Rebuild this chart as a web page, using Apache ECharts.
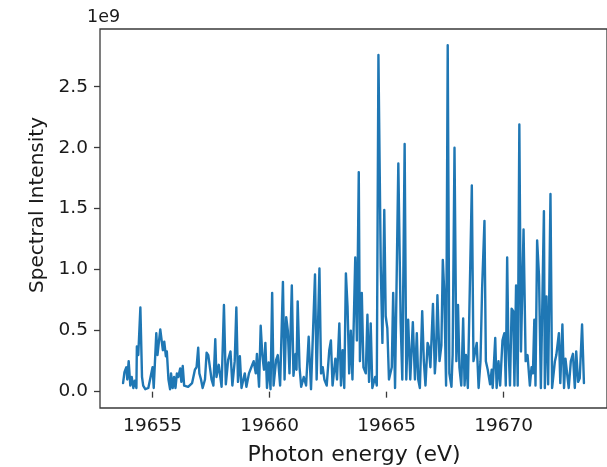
<!DOCTYPE html>
<html>
<head>
<meta charset="utf-8">
<script src="https://cdn.jsdelivr.net/npm/echarts@6/dist/echarts.min.js"></script>
<style>html,body{margin:0;padding:0;background:#fff;}#chart{width:607px;height:467px;}</style>
</head>
<body>
<div id="chart"></div>
<script>
// Photon energy (eV)
var energy = [
19653.74,19653.80,19653.88,19653.92,19653.98,19654.05,19654.11,19654.18,19654.24,19654.31,
19654.33,19654.39,19654.48,19654.55,19654.60,19654.69,19654.82,19654.90,19655.00,19655.05,
19655.16,19655.21,19655.33,19655.38,19655.44,19655.50,19655.57,19655.61,19655.68,19655.75,
19655.79,19655.86,19655.92,19655.98,19656.04,19656.10,19656.18,19656.23,19656.29,19656.35,
19656.43,19656.52,19656.60,19656.69,19656.81,19656.88,19656.95,19657.00,19657.07,19657.14,
19657.24,19657.31,19657.38,19657.45,19657.52,19657.60,19657.68,19657.73,19657.83,19657.95,
19658.05,19658.13,19658.23,19658.33,19658.41,19658.51,19658.58,19658.65,19658.73,19658.80,
19658.94,19659.01,19659.12,19659.22,19659.32,19659.41,19659.46,19659.55,19659.62,19659.69,
19659.76,19659.82,19659.89,19659.96,19660.04,19660.11,19660.17,19660.28,19660.35,19660.45,
19660.57,19660.64,19660.71,19660.78,19660.85,19660.95,19661.02,19661.11,19661.15,19661.20,
19661.28,19661.35,19661.46,19661.56,19661.67,19661.77,19661.94,19662.01,19662.13,19662.20,
19662.27,19662.34,19662.44,19662.55,19662.62,19662.69,19662.81,19662.88,19662.98,19663.05,
19663.12,19663.19,19663.26,19663.33,19663.40,19663.47,19663.54,19663.66,19663.73,19663.81,
19663.86,19663.94,19664.01,19664.11,19664.18,19664.25,19664.32,19664.39,19664.51,19664.58,
19664.65,19664.75,19664.82,19664.90,19664.96,19665.03,19665.10,19665.22,19665.28,19665.36,
19665.50,19665.60,19665.67,19665.77,19665.84,19665.92,19666.01,19666.12,19666.21,19666.29,
19666.35,19666.42,19666.52,19666.59,19666.66,19666.75,19666.80,19666.87,19666.98,19667.06,
19667.11,19667.17,19667.26,19667.34,19667.40,19667.46,19667.54,19667.61,19667.68,19667.77,
19667.82,19667.90,19667.98,19668.05,19668.11,19668.19,19668.27,19668.33,19668.39,19668.47,
19668.64,19668.71,19668.79,19668.85,19668.93,19669.01,19669.08,19669.18,19669.24,19669.32,
19669.42,19669.49,19669.53,19669.64,19669.70,19669.78,19669.85,19669.95,19670.03,19670.09,
19670.15,19670.20,19670.27,19670.34,19670.41,19670.46,19670.53,19670.60,19670.67,19670.74,
19670.85,19670.94,19671.02,19671.12,19671.19,19671.25,19671.31,19671.36,19671.43,19671.51,
19671.59,19671.72,19671.76,19671.83,19671.90,19672.00,19672.07,19672.19,19672.25,19672.36,
19672.42,19672.51,19672.58,19672.64,19672.72,19672.78,19672.87,19672.96,19673.04,19673.10,
19673.18,19673.25,19673.35,19673.43
];
// Spectral intensity in units of 1e9
var intensity = [
0.07,0.16,0.20,0.10,0.25,0.05,0.12,0.03,0.09,0.03,
0.37,0.30,0.69,0.12,0.05,0.02,0.03,0.02,0.20,0.03,
0.48,0.30,0.51,0.52,0.34,0.41,0.29,0.33,0.10,0.02,
0.15,0.03,0.12,0.03,0.15,0.12,0.19,0.08,0.21,0.05,
0.06,0.04,0.05,0.07,0.18,0.20,0.36,0.15,0.10,0.03,
0.10,0.32,0.30,0.20,0.10,0.05,0.43,0.12,0.22,0.04,
0.71,0.06,0.26,0.33,0.05,0.25,0.69,0.08,0.29,0.03,
0.15,0.04,0.15,0.20,0.25,0.15,0.31,0.04,0.54,0.30,
0.18,0.40,0.03,0.24,0.02,0.81,0.05,0.26,0.30,0.05,
0.90,0.10,0.61,0.50,0.15,0.87,0.13,0.31,0.18,0.74,
0.20,0.04,0.12,0.05,0.45,0.02,0.96,0.10,1.01,0.15,
0.20,0.10,0.05,0.34,0.42,0.05,0.27,0.10,0.56,0.05,
0.34,0.03,0.97,0.70,0.15,0.50,0.10,1.10,0.42,1.80,
0.25,0.81,0.20,0.15,0.63,0.08,0.56,0.03,0.12,0.05,
2.76,1.02,0.40,1.49,0.62,0.52,0.10,0.20,0.81,0.03,
1.87,0.57,0.10,2.03,0.10,0.59,0.10,0.57,0.10,0.48,
0.10,0.03,0.66,0.25,0.05,0.40,0.37,0.20,0.72,0.15,
0.30,0.79,0.25,0.38,1.08,0.83,0.05,2.84,0.15,0.04,
0.30,2.00,0.25,0.71,0.20,0.05,0.60,0.05,0.30,0.03,
1.69,0.25,0.25,0.40,0.03,0.25,0.85,1.40,0.25,0.18,
0.06,0.18,0.03,0.44,0.03,0.25,0.05,0.42,0.48,0.05,
1.10,0.40,0.05,0.68,0.66,0.05,0.87,0.05,2.19,0.33,
1.33,0.25,0.30,0.05,0.20,0.15,0.59,0.05,1.24,0.95,
0.03,1.48,0.03,0.78,0.06,1.62,0.03,0.25,0.30,0.48,
0.07,0.55,0.03,0.27,0.26,0.03,0.25,0.31,0.03,0.33,
0.08,0.11,0.55,0.07
];
var xTicks = [19655, 19660, 19665, 19670];
var yTicks = [0, 0.5, 1.0, 1.5, 2.0, 2.5];

var pairs = energy.map(function (e, i) { return [e, intensity[i]]; });
var font = 'DejaVu Sans';
var chart = echarts.init(document.getElementById('chart'), null, {renderer: 'canvas'});
chart.setOption({
  animation: false,
  backgroundColor: '#ffffff',
  grid: {left: 100, top: 29, width: 509, height: 379, show: true, borderColor: '#3a3a3a', borderWidth: 1.3, backgroundColor: 'transparent'},
  xAxis: {
    type: 'value', min: 19652.755, max: 19674.415,
    axisLine: {show: false},
    splitLine: {show: false},
    axisTick: {show: true, length: 6, inside: false, customValues: xTicks, lineStyle: {color: '#3a3a3a', width: 1.3}},
    axisLabel: {customValues: xTicks, margin: 9, color: '#1a1a1a', fontFamily: font, fontSize: 18.5,
      formatter: function (v) { return String(v); }}
  },
  yAxis: {
    type: 'value', min: -0.134, max: 2.973,
    axisLine: {show: false},
    splitLine: {show: false},
    axisTick: {show: true, length: 6, inside: false, customValues: yTicks, lineStyle: {color: '#3a3a3a', width: 1.3}},
    axisLabel: {customValues: yTicks, margin: 12, color: '#1a1a1a', fontFamily: font, fontSize: 18.5,
      formatter: function (v) { return v.toFixed(1); }}
  },
  graphic: [
    {type: 'text', left: 87, top: 8, style: {text: '1e9', fill: '#1a1a1a', font: '17.5px "DejaVu Sans"'}},
    {type: 'text', x: 38, y: 205, rotation: Math.PI / 2,
      style: {text: 'Spectral Intensity', fill: '#1a1a1a', font: '20px "DejaVu Sans"', align: 'center', verticalAlign: 'middle'}},
    {type: 'text', x: 354, y: 455,
      style: {text: 'Photon energy (eV)', fill: '#1a1a1a', font: '22px "DejaVu Sans"', align: 'center', verticalAlign: 'middle'}}
  ],
  series: [{
    type: 'line', data: pairs, showSymbol: false, symbol: 'none',
    lineStyle: {color: '#1f77b4', width: 2.4, join: 'round', cap: 'round'}, clip: true
  }]
});
</script>
</body>
</html>
